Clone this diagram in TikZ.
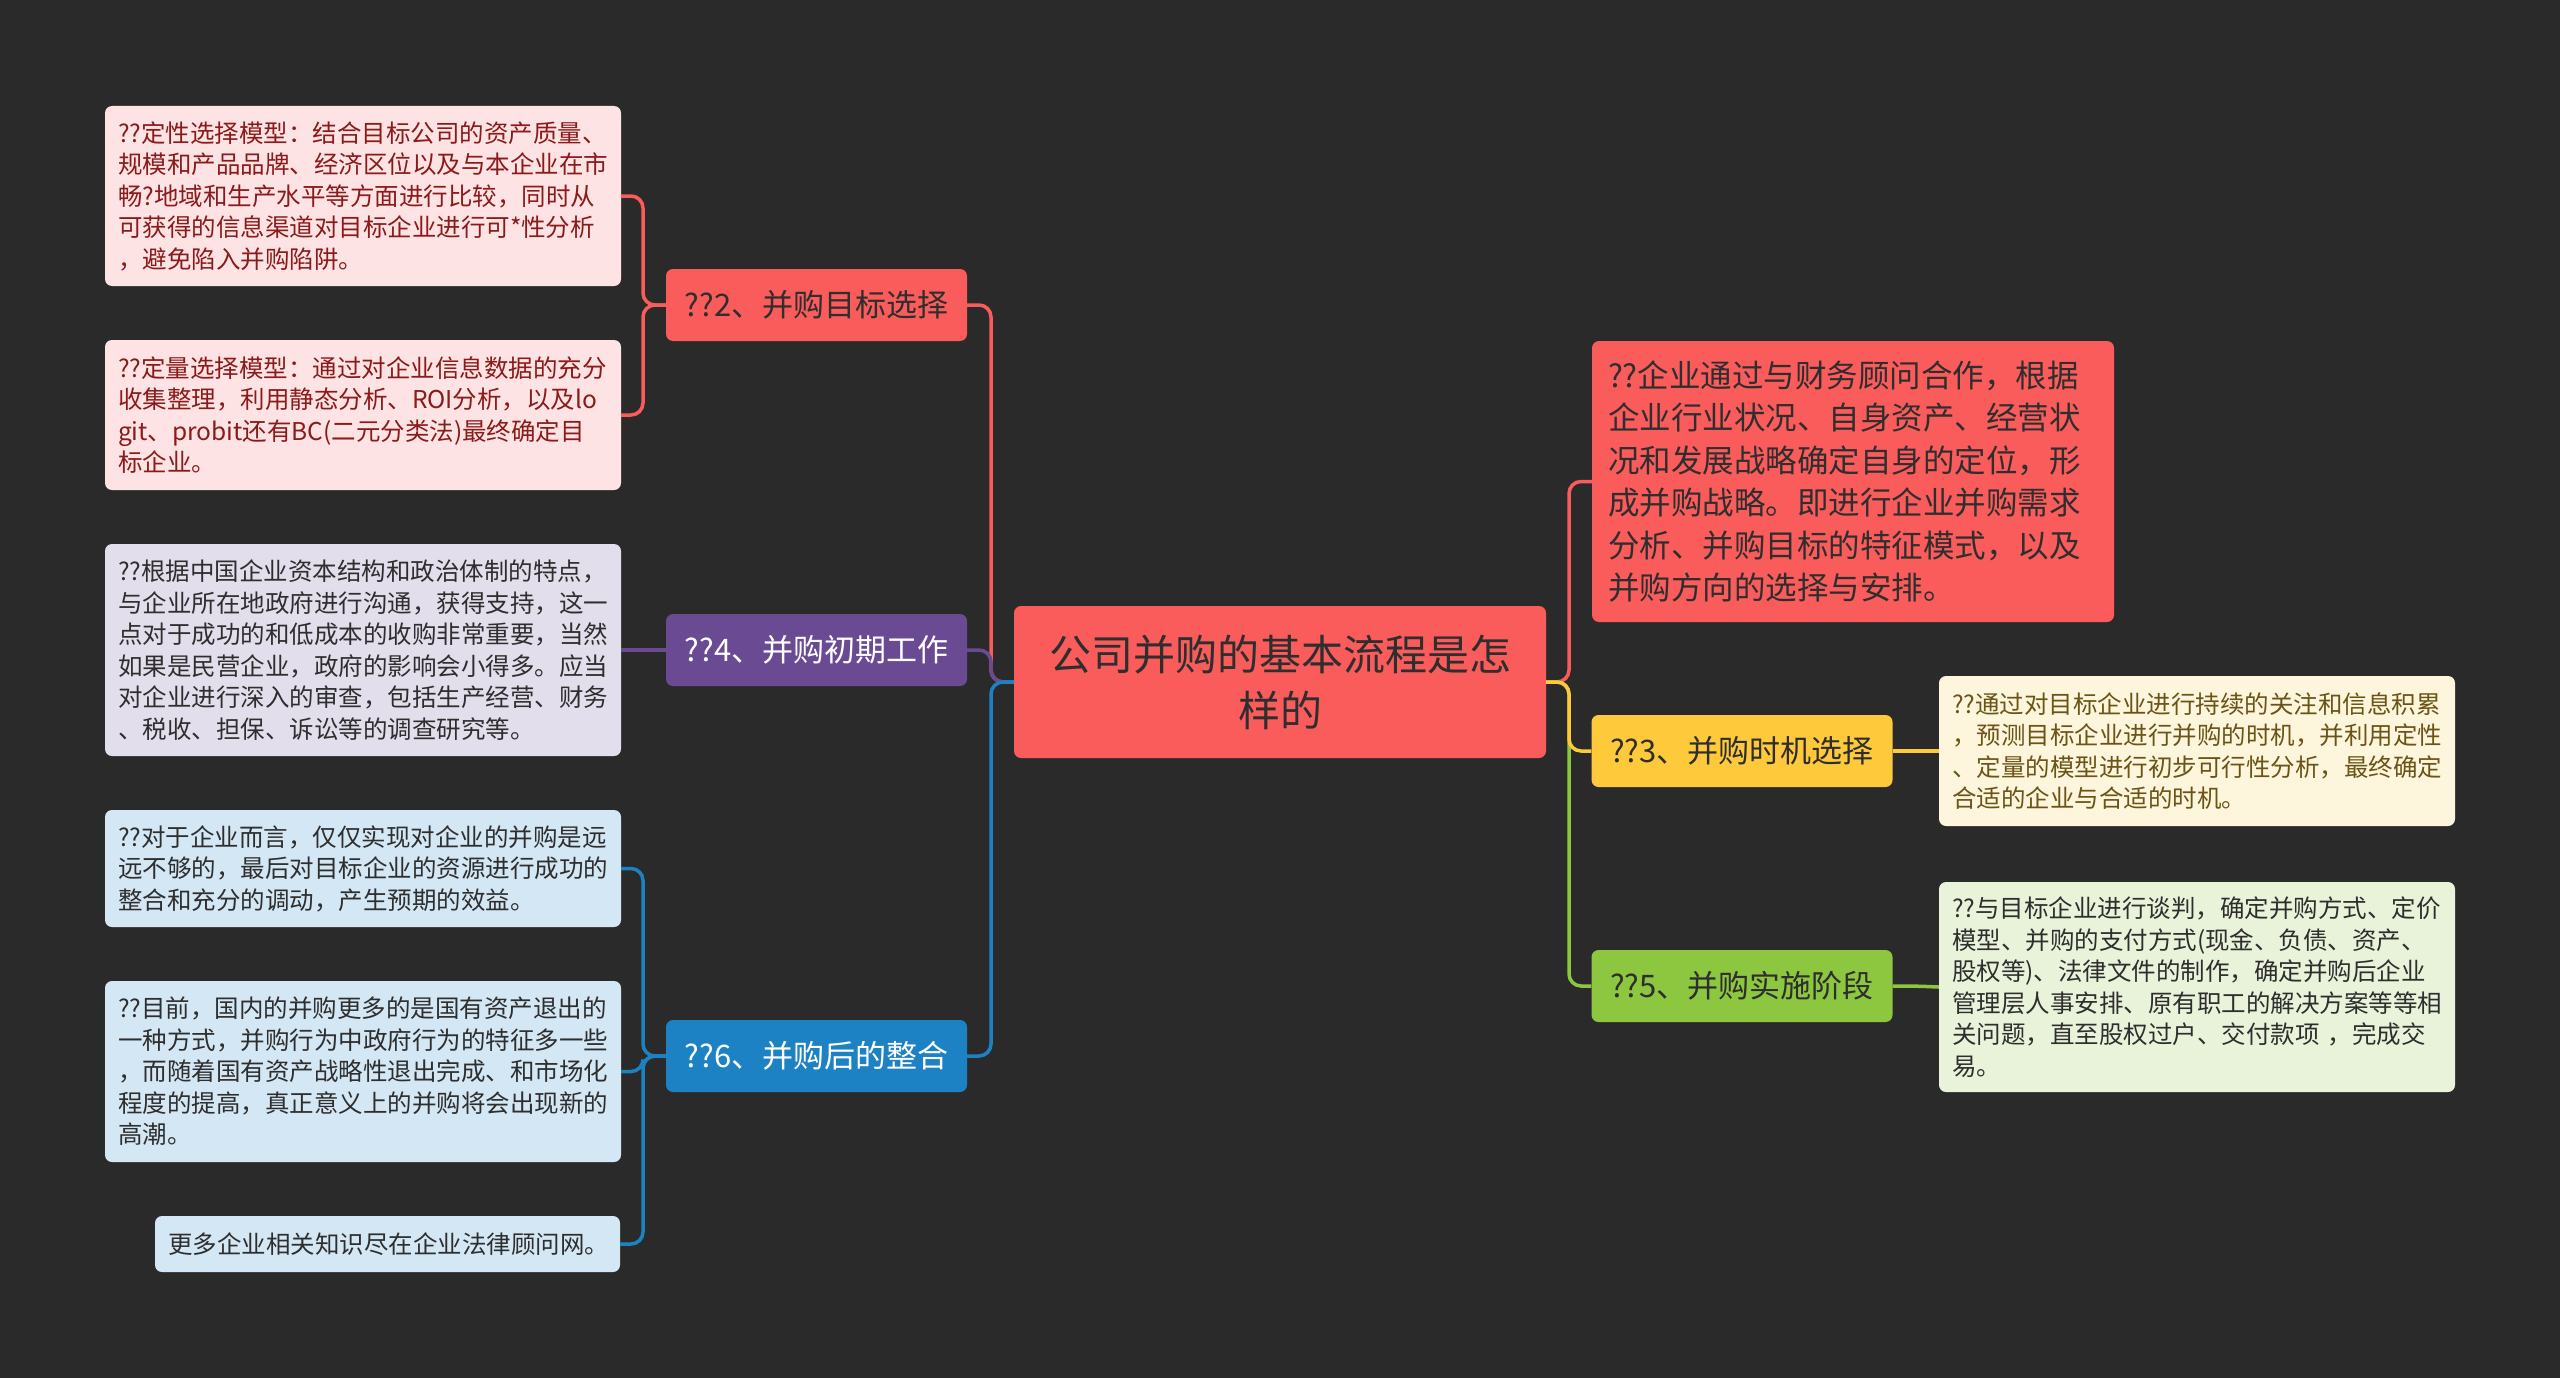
\documentclass[tikz,border=0pt]{standalone}
\usepackage{fontspec}
\newfontfamily\cjk{Noto Sans CJK SC}
\definecolor{bgc}{HTML}{2A2A2A}
\definecolor{cred}{HTML}{FA5B5B}
\definecolor{cpurple}{HTML}{6A4A93}
\definecolor{cblue}{HTML}{1C82C4}
\definecolor{cyellow}{HTML}{FFC93C}
\definecolor{cgreen}{HTML}{8DC63F}
\definecolor{lpink}{HTML}{FDE3E3}
\definecolor{tpink}{HTML}{8B1A1A}
\definecolor{llav}{HTML}{E3DEEC}
\definecolor{lblue}{HTML}{D4E7F4}
\definecolor{lcream}{HTML}{FDF6DD}
\definecolor{tcream}{HTML}{6B5416}
\definecolor{lgreen}{HTML}{E9F3DA}
\definecolor{tdark}{HTML}{2E2E2E}
\tikzset{
  box/.style={rounded corners=7, anchor=center},
  leaf/.style={box, inner xsep=13, inner ysep=6, align=left, text width=490,
    font=\cjk\fontsize{24.5}{31.5}\selectfont},
  branch/.style={box, minimum width=301, minimum height=72, inner sep=0,
    font=\cjk\fontsize{31}{36}\selectfont},
  conn/.style={line width=3.5, rounded corners=12}
}
\begin{document}
\begin{tikzpicture}[x=1pt,y=-1pt]
\fill[bgc] (0,0) rectangle (2560,1378);
\useasboundingbox (0,0) rectangle (2560,1378);

% center
\node[box, fill=cred, text=tdark, minimum width=532, minimum height=152, text width=500, align=center,
  font=\cjk\fontsize{42}{56}\selectfont] (c) at (1280,682) {公司并购的基本流程是怎\\样的};

% branches
\node[branch, fill=cred, text=tdark] (b2) at (816.5,305) {??2、并购目标选择};
\node[branch, fill=cpurple, text=white] (b4) at (816.5,650) {??4、并购初期工作};
\node[branch, fill=cblue, text=white] (b6) at (816.5,1056) {??6、并购后的整合};
\node[branch, fill=cyellow, text=tdark] (b3) at (1742,751) {??3、并购时机选择};
\node[branch, fill=cgreen, text=tdark] (b5) at (1742,986) {??5、并购实施阶段};

% right main red
\node[box, fill=cred, text=tdark, inner xsep=16, text width=490, minimum height=281, align=left,
  font=\cjk\fontsize{31.5}{42.4}\selectfont] (r1) at (1853,481.5)
  {??企业通过与财务顾问合作，根据\\企业行业状况、自身资产、经营状\\况和发展战略确定自身的定位，形\\成并购战略。即进行企业并购需求\\分析、并购目标的特征模式，以及\\并购方向的选择与安排。};

% left leaves
\node[leaf, fill=lpink, text=tpink, minimum height=180] (l1) at (363,196)
  {??定性选择模型：结合目标公司的资产质量、\\规模和产品品牌、经济区位以及与本企业在市\\畅?地域和生产水平等方面进行比较，同时从\\可获得的信息渠道对目标企业进行可*性分析\\，避免陷入并购陷阱。};
\node[leaf, fill=lpink, text=tpink, minimum height=150] (l2) at (363,415)
  {??定量选择模型：通过对企业信息数据的充分\\收集整理，利用静态分析、ROI分析，以及lo\\git、probit还有BC(二元分类法)最终确定目\\标企业。};
\node[leaf, fill=llav, text=tdark, minimum height=212] (l3) at (363,650)
  {??根据中国企业资本结构和政治体制的特点，\\与企业所在地政府进行沟通，获得支持，这一\\点对于成功的和低成本的收购非常重要，当然\\如果是民营企业，政府的影响会小得多。应当\\对企业进行深入的审查，包括生产经营、财务\\、税收、担保、诉讼等的调查研究等。};
\node[leaf, fill=lblue, text=tdark, minimum height=117] (l4) at (363,868.5)
  {??对于企业而言，仅仅实现对企业的并购是远\\远不够的，最后对目标企业的资源进行成功的\\整合和充分的调动，产生预期的效益。};
\node[leaf, fill=lblue, text=tdark, minimum height=181] (l5) at (363,1071.5)
  {??目前，国内的并购更多的是国有资产退出的\\一种方式，并购行为中政府行为的特征多一些\\，而随着国有资产战略性退出完成、和市场化\\程度的提高，真正意义上的并购将会出现新的\\高潮。};
\node[leaf, fill=lblue, text=tdark, minimum height=56, text width=439] (l6) at (387.5,1244)
  {更多企业相关知识尽在企业法律顾问网。};

% right leaves
\node[leaf, fill=lcream, text=tcream, minimum height=150] (r3) at (2197,751)
  {??通过对目标企业进行持续的关注和信息积累\\，预测目标企业进行并购的时机，并利用定性\\、定量的模型进行初步可行性分析，最终确定\\合适的企业与合适的时机。};
\node[leaf, fill=lgreen, text=tdark, minimum height=210] (r5) at (2197,987)
  {??与目标企业进行谈判，确定并购方式、定价\\模型、并购的支付方式(现金、负债、资产、\\股权等)、法律文件的制作，确定并购后企业\\管理层人事安排、原有职工的解决方案等等相\\关问题，直至股权过户、交付款项 ，完成交\\易。};

% junction coordinates
\coordinate (lj) at (991,682);
\coordinate (rj) at (1569,682);
\coordinate (t2) at (643,305);
\coordinate (t6) at (643,1056);
\coordinate (t3) at (1914,751);
\coordinate (t5) at (1914,986);

% center to branches
\draw[conn, cred] (c.west) -- (lj) |- (b2.east);
\draw[conn, cpurple] (c.west) -- (lj) |- (b4.east);
\draw[conn, cblue] (c.west) -- (lj) |- (b6.east);
\draw[conn, cred] (c.east) -- (rj) |- (r1.west);
\draw[conn, cgreen] (c.east) -- (rj) |- (b5.west);
\draw[conn, cyellow] (c.east) -- (rj) |- (b3.west);

% branches to leaves
\draw[conn, cred] (b2.west) -- (t2) |- (l1.east);
\draw[conn, cred] (b2.west) -- (t2) |- (l2.east);
\draw[conn, cpurple] (b4.west) -- (l3.east);
\draw[conn, cblue] (b6.west) -- (t6) |- (l4.east);
\draw[conn, cblue] (b6.west) -- (t6) |- (l5.east);
\draw[conn, cblue] (b6.west) -- (t6) |- (l6.east);
\draw[conn, cyellow] (b3.east) -- (t3) -- (r3.west);
\draw[conn, cgreen] (b5.east) -- (t5) -- (r5.west);
\end{tikzpicture}
\end{document}
